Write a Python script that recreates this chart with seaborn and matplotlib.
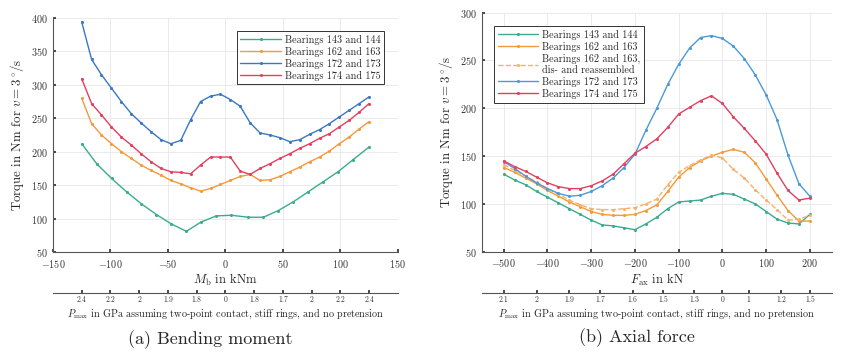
import matplotlib
matplotlib.use("Agg")
import matplotlib.pyplot as plt
import seaborn as sns

# ---- (a) bending moment ----
mb_x = [-125, -116.4, -107.8, -99.1, -90.5, -81.9, -73.3, -64.7, -56.0, -47.4,
        -38.8, -30.2, -21.6, -12.9, -4.3, 4.3, 12.9, 21.6, 30.2, 38.8,
        47.4, 56.0, 64.7, 73.3, 81.9, 90.5, 99.1, 107.8, 116.4, 125]
mb_x_143 = [-125, -112, -99, -86, -73, -60, -47, -34, -21, -8,
            5, 20, 33, 46, 59, 72, 85, 98, 111, 125]
mb_143 = [212, 182, 160, 140, 122, 106, 92, 81, 95, 104,
          105, 102, 102, 112, 125, 140, 155, 170, 188, 207]
mb_162 = [280, 242, 225, 212, 200, 190, 180, 172, 165, 157,
          152, 146, 141, 145, 151, 157, 163, 166, 157, 158,
          163, 170, 177, 185, 192, 201, 212, 222, 234, 245]
mb_172 = [394, 338, 315, 295, 275, 257, 243, 230, 218, 212,
          217, 248, 275, 283, 286, 278, 268, 243, 228, 225,
          221, 215, 218, 226, 233, 242, 252, 262, 272, 282]
mb_174 = [309, 272, 255, 237, 222, 210, 197, 185, 175, 170,
          169, 167, 180, 192, 192, 192, 171, 166, 175, 182,
          190, 197, 205, 212, 220, 227, 237, 247, 259, 272]
mb_sec_pos = [-125, -100, -75, -50, -25, 0, 25, 50, 75, 100, 125]
mb_sec_lab = ["2.4", "2.2", "2", "1.9", "1.8", "0", "1.8", "1.7", "2", "2.2", "2.4"]

# ---- (b) axial force ----
fa_x = [-500, -475, -450, -425, -400, -375, -350, -325, -300, -275,
        -250, -225, -200, -175, -150, -125, -100, -75, -50, -25,
        0, 25, 50, 75, 100, 125, 150, 175, 200]
fa_143 = [131, 125, 120, 113, 107, 101, 95, 89, 83, 78,
          77, 75, 73, 79, 86, 95, 102, 103, 104, 108,
          111, 110, 105, 100, 92, 84, 80, 79, 89]
fa_162 = [138, 133, 127, 121, 114, 108, 102, 97, 92, 89,
          88, 88, 89, 93, 99, 113, 128, 138, 145, 150,
          154, 157, 154, 143, 126, 109, 93, 82, 82]
fa_162r = [141, 135, 129, 123, 116, 110, 104, 99, 95, 94,
           94, 95, 96, 100, 105, 120, 133, 140, 146, 151,
           148, 136, 127, 115, 104, 94, 83, 84, 88]
fa_172 = [144, 137, 129, 122, 116, 111, 108, 109, 113, 119,
          127, 138, 152, 177, 200, 225, 246, 263, 274, 276,
          273, 265, 252, 235, 214, 188, 151, 121, 108]
fa_174 = [145, 139, 134, 128, 122, 118, 116, 116, 119, 124,
          131, 142, 153, 160, 168, 180, 194, 201, 208, 213,
          205, 191, 179, 166, 152, 132, 114, 104, 106]
fa_sec_pos = [-500, -425, -350, -280, -205, -135, -65, 0, 60, 135, 200]
fa_sec_lab = ["2.1", "2", "1.9", "1.7", "1.6", "1.5", "1.3", "0", "1", "1.2", "1.5"]

c_green = "#3aab8e"
c_orange = "#f39a3b"
c_blue = "#3a78c0"
c_red = "#e2405f"

sns.set_theme(style="whitegrid")
plt.rcParams["font.family"] = ["cmr10", "DejaVu Serif"]
plt.rcParams["mathtext.fontset"] = "cm"
plt.rcParams["axes.formatter.use_mathtext"] = True

fig = plt.figure(figsize=(8.41, 3.52), dpi=100)
ax1 = fig.add_axes([0.063, 0.284, 0.410, 0.665])
ax2 = fig.add_axes([0.573, 0.285, 0.416, 0.679])

kw = dict(marker="o", markersize=2.2, linewidth=1.0, markeredgewidth=0)

sns.lineplot(x=mb_x_143, y=mb_143, ax=ax1, color=c_green, label="Bearings 143 and 144", **kw)
sns.lineplot(x=mb_x, y=mb_162, ax=ax1, color=c_orange, label="Bearings 162 and 163", **kw)
sns.lineplot(x=mb_x, y=mb_172, ax=ax1, color=c_blue, label="Bearings 172 and 173", **kw)
sns.lineplot(x=mb_x, y=mb_174, ax=ax1, color=c_red, label="Bearings 174 and 175", **kw)

sns.lineplot(x=fa_x, y=fa_143, ax=ax2, color=c_green, label="Bearings 143 and 144", **kw)
sns.lineplot(x=fa_x, y=fa_162, ax=ax2, color=c_orange, label="Bearings 162 and 163", **kw)
sns.lineplot(x=fa_x, y=fa_162r, ax=ax2, color="#f6b26b", linestyle="--",
             label="Bearings 162 and 163,\ndis- and reassembled", **kw)
sns.lineplot(x=fa_x, y=fa_172, ax=ax2, color="#4b9ad8", label="Bearings 172 and 173", **kw)
sns.lineplot(x=fa_x, y=fa_174, ax=ax2, color=c_red, label="Bearings 174 and 175", **kw)

ax1.set_xlim(-150, 150)
ax1.set_ylim(50, 400)
ax1.set_xticks(range(-150, 151, 50))
ax1.set_yticks(range(50, 401, 50))
ax2.set_xlim(-550, 250)
ax2.set_ylim(50, 300)
ax2.set_xticks(range(-500, 201, 100))
ax2.set_yticks(range(50, 301, 50))

ax1.set_xlabel(r"$M_{\mathrm{b}}$ in kNm", fontsize=9, labelpad=2)
ax2.set_xlabel(r"$F_{\mathrm{ax}}$ in kN", fontsize=9, labelpad=2)
for ax in (ax1, ax2):
    ax.set_ylabel(r"Torque in Nm for $v = 3\,^{\circ}/\mathrm{s}$", fontsize=9.3, labelpad=3)
    ax.tick_params(direction="in", length=2.5, labelsize=7.3, pad=4,
                   colors="#333333", left=True, bottom=True)
    ax.grid(color="#e6e6e6", linewidth=0.6)
    for s in ("top", "right"):
        ax.spines[s].set_visible(False)
    for s in ("left", "bottom"):
        ax.spines[s].set_color("#555555")
        ax.spines[s].set_linewidth(0.8)

leg1 = ax1.legend(loc="upper right", bbox_to_anchor=(0.975, 0.965), fontsize=7.3,
                  frameon=True, fancybox=False, handlelength=4, borderpad=0.35,
                  labelspacing=0.2, handletextpad=0.4)
leg2 = ax2.legend(loc="upper left", bbox_to_anchor=(0.02, 0.965), fontsize=7.3,
                  frameon=True, fancybox=False, handlelength=4, borderpad=0.35,
                  labelspacing=0.2, handletextpad=0.4)
for leg in (leg1, leg2):
    leg.get_frame().set_edgecolor("#333333")
    leg.get_frame().set_linewidth(0.7)
    leg.get_frame().set_alpha(1)

sec_label = r"$P_{\max}$ in GPa assuming two-point contact, stiff rings, and no pretension"
for ax, loc, pos, lab in ((ax1, -0.175, mb_sec_pos, mb_sec_lab),
                          (ax2, -0.173, fa_sec_pos, fa_sec_lab)):
    sec = ax.secondary_xaxis(loc)
    sec.set_xticks(pos, lab)
    sec.tick_params(direction="in", length=2, labelsize=5.5, pad=2, colors="#333333")
    sec.spines["bottom"].set_color("#555555")
    sec.spines["bottom"].set_linewidth(0.8)
    sec.set_xlabel(sec_label, fontsize=7.3, labelpad=1.5)

fig.text(0.25, 0.034, "(a) Bending moment", ha="center", va="center", fontsize=13)
fig.text(0.757, 0.04, "(b) Axial force", ha="center", va="center", fontsize=13)

fig.savefig("out.png", dpi=100)
